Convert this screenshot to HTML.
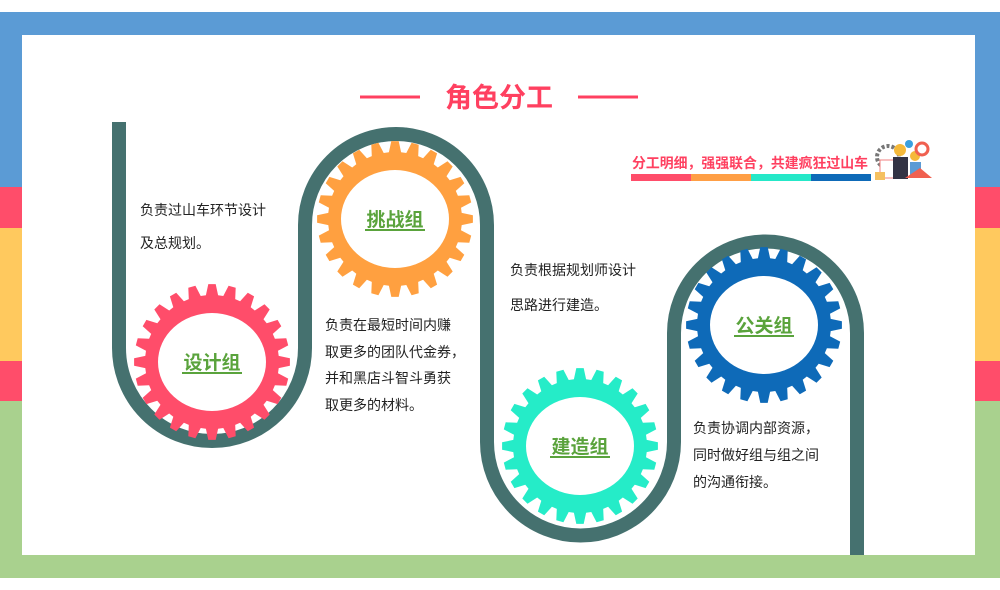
<!DOCTYPE html>
<html><head><meta charset="utf-8">
<style>
html,body{margin:0;padding:0;background:#fff;}
body{width:1000px;height:590px;position:relative;overflow:hidden;font-family:"Liberation Sans","Noto Sans CJK SC",sans-serif;}
.t{position:absolute;font-size:14px;color:#222;white-space:nowrap;}
</style></head><body>
<svg width="1000" height="590" style="position:absolute;left:0;top:0">
<rect x="0" y="12" width="1000" height="175" fill="#5b9bd5"/>
<rect x="0" y="187" width="1000" height="41" fill="#ff4d6a"/>
<rect x="0" y="228" width="1000" height="133" fill="#ffc95e"/>
<rect x="0" y="361" width="1000" height="40" fill="#ff4d6a"/>
<rect x="0" y="401" width="1000" height="177" fill="#a9d18e"/>
<rect x="22" y="35" width="953" height="520" fill="#fff"/>
<line x1="360" y1="97" x2="420" y2="97" stroke="#ff4060" stroke-width="3"/>
<line x1="578" y1="97" x2="638" y2="97" stroke="#ff4060" stroke-width="3"/>
<text x="499" y="107" text-anchor="middle" font-size="27" font-weight="bold" fill="#ff4060" font-family="Liberation Sans, Noto Sans CJK SC, sans-serif">角色分工</text>
<path d="M119 122 L119 348 A93 93 0 0 0 305 348 L305 225 A91 91 0 0 1 487 225 L487 442 A93.5 93.5 0 0 0 674 442 L674 333 A91.5 91.5 0 0 1 857 333 L857 555" fill="none" stroke="#45716f" stroke-width="14"/>
<g id="gears"></g>
<text x="632" y="168" font-size="14" font-weight="bold" fill="#ff4060" font-family="Liberation Sans, Noto Sans CJK SC, sans-serif" textLength="236" lengthAdjust="spacingAndGlyphs">分工明细，强强联合，共建疯狂过山车</text>
<rect x="631" y="174" width="60" height="7" fill="#ff4d6a"/>
<rect x="691" y="174" width="60" height="7" fill="#ff9f45"/>
<rect x="751" y="174" width="60" height="7" fill="#25e8c8"/>
<rect x="811" y="174" width="60" height="7" fill="#0e6ab8"/>
<circle cx="888" cy="157" r="11" fill="none" stroke="#777" stroke-width="4" stroke-dasharray="3 2"/>
<rect x="880" y="160" width="14" height="18" fill="#fff" stroke="#f08080"/>
<circle cx="900" cy="150" r="6" fill="#f5b93a"/>
<rect x="893" y="157" width="15" height="22" fill="#334" />
<circle cx="915" cy="156" r="5" fill="#f5b93a"/>
<rect x="910" y="162" width="11" height="16" fill="#5b9bd5"/>
<circle cx="909" cy="144" r="4" fill="#3aa0e0"/>
<circle cx="922" cy="149" r="6" fill="none" stroke="#f06050" stroke-width="3"/>
<path d="M905 178 L932 178 L920 168 Z" fill="#f06050"/>
<rect x="875" y="172" width="10" height="8" fill="#f5c060"/>
</svg>
<div class="t" style="left:140px;top:200px">负责过山车环节设计</div>
<div class="t" style="left:140px;top:233px">及总规划。</div>
<div class="t" style="left:325px;top:312px;line-height:26.5px">负责在最短时间内赚<br>取更多的团队代金券，<br>并和黑店斗智斗勇获<br>取更多的材料。</div>
<div class="t" style="left:510px;top:260px">负责根据规划师设计</div>
<div class="t" style="left:510px;top:295px">思路进行建造。</div>
<div class="t" style="left:693px;top:415px;line-height:27px">负责协调内部资源，<br>同时做好组与组之间<br>的沟通衔接。</div>
<script>
(function(){
var g=document.getElementById('gears');var ns='http://www.w3.org/2000/svg';
var data=[[212,362,'#ff4d6a','设计组'],[395,219,'#ffa040','挑战组'],[580,446,'#25ecc8','建造组'],[764,325,'#0e6ab8','公关组']];
data.forEach(function(d){
 var cx=d[0],cy=d[1],n=24,R=78,r=67,pts=[];
 for(var i=0;i<n;i++){var a=i*2*Math.PI/n,s=Math.PI/n;
  [[a-s*0.7,r],[a-s*0.36,R],[a+s*0.36,R],[a+s*0.7,r]].forEach(function(p){pts.push((cx+p[1]*Math.cos(p[0])).toFixed(1)+','+(cy+p[1]*Math.sin(p[0])).toFixed(1));});}
 var p=document.createElementNS(ns,'polygon');p.setAttribute('points',pts.join(' '));p.setAttribute('fill',d[2]);g.appendChild(p);
 var e=document.createElementNS(ns,'ellipse');e.setAttribute('cx',cx);e.setAttribute('cy',cy);e.setAttribute('rx',54);e.setAttribute('ry',49);e.setAttribute('fill','#fff');g.appendChild(e);
 var t=document.createElementNS(ns,'text');t.setAttribute('x',cx);t.setAttribute('y',cy+7);t.setAttribute('text-anchor','middle');t.setAttribute('font-size','19');t.setAttribute('font-weight','bold');t.setAttribute('fill','#5aa33c');t.setAttribute('font-family','Liberation Sans, Noto Sans CJK SC, sans-serif');t.textContent=d[3];g.appendChild(t);
 var u=document.createElementNS(ns,'rect');u.setAttribute('x',cx-30);u.setAttribute('y',cy+10);u.setAttribute('width',60);u.setAttribute('height',2);u.setAttribute('fill','#5aa33c');g.appendChild(u);
});
})();
</script>
</body></html>
